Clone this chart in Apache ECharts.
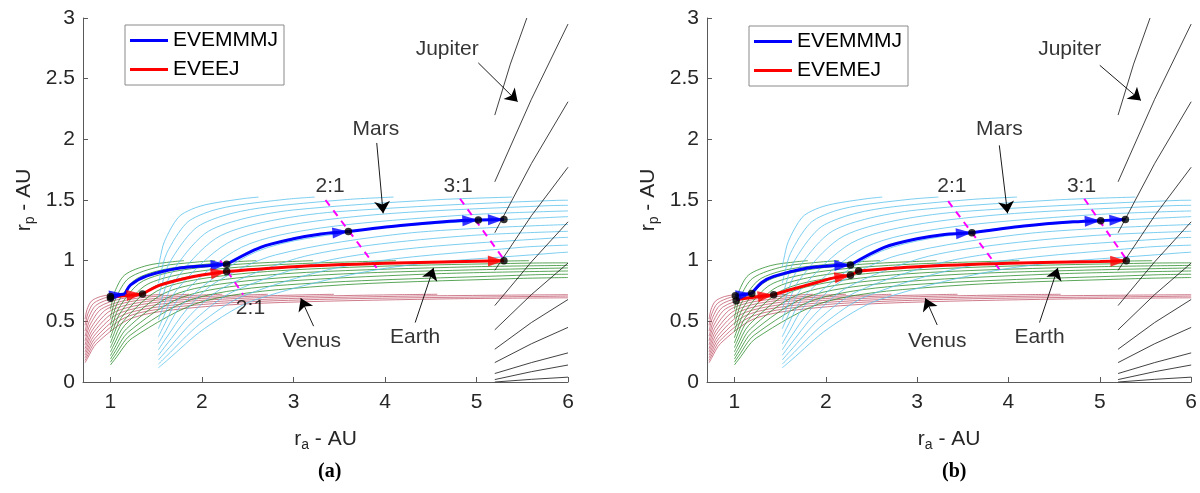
<!DOCTYPE html>
<html><head><meta charset="utf-8">
<script src="https://cdn.jsdelivr.net/npm/echarts@6/dist/echarts.min.js"></script>
<style>html,body{margin:0;padding:0;background:#fff}#c{width:1200px;height:493px}</style>
</head><body><div id="c"></div>
<script>
// ---------------- data ----------------
const xTicks = [1, 2, 3, 4, 5, 6];
const legendA = ['EVEMMMJ', 'EVEEJ'];
const legendB = ['EVEMMMJ', 'EVEMEJ'];
const captions = ['(a)', '(b)'];

// background contour families, [ra, rp] points in AU
const venusCurves = [
 [[0.723,0.519],[0.7275,0.540],[0.744,0.597],[0.791,0.666],[0.890,0.704],[0.994,0.719],[1.038,0.723]],
 [[0.723,0.467],[0.729,0.491],[0.752,0.561],[0.816,0.649],[0.959,0.698],[1.115,0.7175],[1.183,0.723]],
 [[0.723,0.420],[0.731,0.448],[0.760,0.529],[0.843,0.633],[1.036,0.692],[1.258,0.716],[1.361,0.723]],
 [[0.723,0.378],[0.733,0.408],[0.768,0.498],[0.872,0.617],[1.122,0.687],[1.431,0.715],[1.579,0.723]],
 [[0.723,0.340],[0.734,0.373],[0.776,0.470],[0.904,0.603],[1.221,0.682],[1.642,0.714],[1.858,0.723]],
 [[0.723,0.306],[0.736,0.340],[0.785,0.444],[0.937,0.589],[1.101,0.642],[1.333,0.676],[1.906,0.713],[2.222,0.723]],
 [[0.723,0.276],[0.738,0.310],[0.795,0.420],[0.973,0.575],[1.172,0.633],[1.465,0.671],[1.839,0.696],[2.247,0.711],[2.720,0.723]],
 [[0.723,0.248],[0.740,0.283],[0.804,0.397],[1.012,0.562],[1.251,0.625],[1.618,0.667],[2.117,0.693],[2.702,0.710],[3.223,0.720],[3.442,0.723]],
 [[0.723,0.222],[0.742,0.258],[0.815,0.375],[1.054,0.550],[1.340,0.617],[1.800,0.662],[2.472,0.691],[3.338,0.709],[4.189,0.720],[4.572,0.723]],
 [[0.723,0.199],[0.744,0.235],[0.825,0.355],[1.100,0.538],[1.441,0.610],[2.021,0.657],[2.946,0.688],[4.295,0.708],[5.346,0.716],[6.0,0.7195]],
 [[0.723,0.178],[0.747,0.214],[0.836,0.336],[1.150,0.527],[1.555,0.603],[2.292,0.653],[3.602,0.686],[5.887,0.707],[6.0,0.708]],
 [[0.723,0.159],[0.749,0.195],[0.848,0.318],[1.205,0.517],[1.688,0.595],[2.635,0.649],[4.579,0.684],[6.0,0.694]]
];

const earthCurves = [
 [[1,0.5993],[1.0102,0.6365],[1.0474,0.7443],[1.1551,0.8816],[1.3994,0.9600],[1.6779,0.9911],[1.8036,1]],
 [[1,0.5295],[1.0130,0.5710],[1.0607,0.6942],[1.2018,0.8562],[1.5368,0.9510],[1.9478,0.9891],[2.1446,1]],
 [[1,0.4680],[1.0159,0.5127],[1.0746,0.6482],[1.2524,0.8323],[1.4397,0.8992],[1.6966,0.9423],[2.2895,0.9870],[2.5945,1]],
 [[1,0.4135],[1.0189,0.4604],[1.0892,0.6060],[1.3074,0.8096],[1.5450,0.8850],[1.8844,0.9340],[2.3013,0.9653],[2.7356,0.9852],[3.2147,1]],
 [[1,0.3651],[1.0221,0.4136],[1.1045,0.5671],[1.3673,0.7882],[1.6640,0.8714],[2.1078,0.9259],[2.6886,0.9610],[3.3398,0.9833],[4.1197,1]],
 [[1,0.3218],[1.0253,0.3712],[1.1206,0.5311],[1.4330,0.7679],[1.8002,0.8585],[2.3796,0.9182],[3.1985,0.9569],[4.2096,0.9815],[5.5729,1]],
 [[1,0.2830],[1.0288,0.3328],[1.1377,0.4976],[1.5056,0.7486],[1.9574,0.8460],[2.7162,0.9107],[3.8974,0.9528],[5.5641,0.9798],[6,0.982]],
 [[1,0.2482],[1.0323,0.2980],[1.1556,0.4665],[1.5858,0.7302],[2.1407,0.8340],[3.1441,0.9034],[4.9138,0.9489],[6,0.961]],
 [[1,0.2168],[1.0360,0.2664],[1.1746,0.4376],[1.6750,0.7128],[2.3572,0.8225],[3.7057,0.8964],[6,0.940]],
 [[1,0.1887],[1.0399,0.2376],[1.1946,0.4106],[1.7746,0.6961],[2.6159,0.8115],[4.4727,0.8897],[6,0.915]],
 [[1,0.1633],[1.0440,0.2114],[1.2159,0.3853],[1.8872,0.6802],[2.9327,0.8008],[5.5912,0.8831],[6,0.888]],
 [[1,0.1405],[1.0482,0.1873],[1.2384,0.3616],[2.0149,0.6650],[3.3282,0.7906],[5.3873,0.8518],[6,0.861]]
];

const marsCurves = [
 [[1.524,0.948],[1.538,1.002],[1.590,1.158],[1.740,1.356],[1.888,1.424],[2.076,1.467],[2.451,1.511],[2.618,1.524]],
 [[1.524,0.813],[1.544,0.876],[1.615,1.062],[1.827,1.307],[2.043,1.395],[2.328,1.450],[2.940,1.5075],[3.232,1.524]],
 [[1.524,0.698],[1.549,0.767],[1.641,0.977],[1.922,1.262],[2.220,1.367],[2.631,1.434],[3.591,1.504],[4.093,1.524]],
 [[1.524,0.599],[1.555,0.672],[1.669,0.899],[2.029,1.221],[2.425,1.340],[3.003,1.418],[4.507,1.500],[5.391,1.524]],
 [[1.524,0.513],[1.561,0.588],[1.699,0.829],[2.147,1.181],[2.665,1.315],[3.468,1.403],[5.876,1.497],[6.0,1.498]],
 [[1.524,0.439],[1.567,0.514],[1.730,0.765],[2.280,1.145],[2.950,1.292],[4.067,1.389],[5.782,1.453],[6.0,1.456]],
 [[1.524,0.373],[1.574,0.449],[1.764,0.706],[2.431,1.110],[3.295,1.269],[4.872,1.376],[6.0,1.410]],
 [[1.524,0.315],[1.581,0.391],[1.800,0.653],[2.603,1.077],[3.718,1.248],[4.579,1.307],[6.0,1.363]],
 [[1.524,0.265],[1.588,0.339],[1.839,0.603],[2.146,0.819],[2.801,1.047],[4.253,1.227],[6.0,1.298]],
 [[1.524,0.220],[1.596,0.292],[1.881,0.558],[2.237,0.780],[3.032,1.018],[3.835,1.127],[4.946,1.208],[6.0,1.242]],
 [[1.524,0.1815],[1.605,0.2508],[1.926,0.516],[2.339,0.744],[3.304,0.990],[4.340,1.105],[5.883,1.189],[6.0,1.192]],
 [[1.524,0.1473],[1.613,0.2136],[1.974,0.477],[2.453,0.7095],[3.630,0.9646],[5.489,1.110],[6.0,1.128]],
 [[1.524,0.1175],[1.623,0.1805],[2.027,0.4406],[2.581,0.6774],[4.027,0.9399],[5.856,1.063],[6.0,1.07]]
];

const jupiterCurves = [
 [[5.2,2.20],[5.37,2.62],[5.55,3.0]],
 [[5.2,1.65],[5.6,2.33],[6.0,2.95]],
 [[5.2,1.23],[5.6,1.80],[6.0,2.31]],
 [[5.2,0.92],[5.6,1.37],[6.0,1.77]],
 [[5.2,0.63],[5.6,0.99],[6.0,1.32]],
 [[5.2,0.43],[5.6,0.72],[6.0,0.98]],
 [[5.2,0.27],[5.6,0.49],[6.0,0.68]],
 [[5.2,0.16],[5.6,0.315],[6.0,0.45]],
 [[5.2,0.07],[5.6,0.16],[6.0,0.24]],
 [[5.2,0.02],[5.6,0.085],[6.0,0.14]],
 [[5.2,0.0],[5.6,0.022],[6.0,0.04]]
];

// trajectories (segments end at flyby nodes, arrowheads at segment ends)
const blueA = [
 [[1.0,0.71],[1.16,0.725]],
 [[1.16,0.725],[1.22,0.80],[1.4,0.875],[1.76,0.94],[2.12,0.962],[2.27,0.97]],
 [[2.27,0.97],[2.64,1.11],[3.0,1.18],[3.3,1.22],[3.6,1.24]],
 [[3.6,1.24],[4.17,1.29],[4.71,1.325],[5.02,1.335]],
 [[5.02,1.335],[5.3,1.34]]
];
const redA = [
 [[1.0,0.70],[1.35,0.725]],
 [[1.35,0.725],[1.55,0.80],[1.91,0.87],[2.17,0.90],[2.27,0.91]],
 [[2.27,0.91],[3.0,0.95],[4.0,0.978],[5.0,0.995],[5.3,1.0]]
];
const blueB = [
 [[1.01,0.71],[1.19,0.73]],
 [[1.19,0.73],[1.3,0.82],[1.43,0.87],[1.8,0.94],[2.1,0.96],[2.27,0.965]],
 [[2.27,0.965],[2.64,1.11],[3.0,1.18],[3.3,1.215],[3.6,1.23]],
 [[3.6,1.23],[4.17,1.285],[4.71,1.32],[5.01,1.33]],
 [[5.01,1.33],[5.28,1.34]]
];
const redB = [
 [[1.02,0.68],[1.43,0.72]],
 [[1.43,0.72],[1.61,0.76],[1.9,0.82],[2.1,0.86],[2.27,0.88]],
 [[2.27,0.88],[2.36,0.915]],
 [[2.36,0.915],[3.0,0.95],[4.0,0.978],[5.0,0.993],[5.29,1.0]]
];
const arrowSegA = { blue: [0,1,2,3,4], red: [0,1,2] };
const arrowSegB = { blue: [0,1,2,3,4], red: [0,1,3] };

const dotsA = [[1.0,0.69],[1.0,0.705],[1.35,0.725],[2.27,0.97],[2.27,0.91],[3.6,1.24],[5.02,1.335],[5.3,1.34],[5.3,1.0]];
const dotsB = [[1.01,0.71],[1.02,0.67],[1.19,0.73],[1.43,0.72],[2.27,0.965],[2.27,0.88],[2.36,0.915],[3.6,1.23],[5.01,1.33],[5.28,1.34],[5.29,1.0]];

const resA = [ [[2.2,1.0],[2.45,0.72]], [[3.35,1.5],[3.91,0.94]], [[4.82,1.51],[5.29,1.02]] ];
const resB = [ [[3.34,1.49],[3.9,0.93]], [[4.83,1.51],[5.3,1.0]] ];
const resLabelsA = [['2:1',2.53,0.61],['2:1',3.40,1.61],['3:1',4.80,1.61]];
const resLabelsB = [['2:1',3.38,1.61],['3:1',4.80,1.61]];

const planetLabelsA = [['Jupiter',4.68,2.74],['Mars',3.90,2.08],['Venus',3.20,0.34],['Earth',4.33,0.37]];
const planetLabelsB = [['Jupiter',4.67,2.74],['Mars',3.90,2.08],['Venus',3.22,0.34],['Earth',4.34,0.37]];
const planetArrowsA = [ [[5.02,2.63],[5.45,2.31]], [[3.91,1.97],[3.98,1.39]], [[3.22,0.46],[3.08,0.69]], [[4.33,0.49],[4.53,0.94]] ];
const planetArrowsB = [ [[5.0,2.61],[5.45,2.32]], [[3.90,1.95],[3.99,1.39]], [[3.22,0.47],[3.09,0.69]], [[4.34,0.49],[4.54,0.94]] ];

// ---------------- chart ----------------
const FONT = 'Liberation Sans, Arial, Helvetica, sans-serif';
const FS = 21;
const chart = echarts.init(document.getElementById('c'), null, {renderer:'canvas'});
const grids = [
  {left:83, top:18, width:485, height:364},
  {left:707, top:18, width:485, height:364}
];
const famColors = {venus:'#BF5066', earth:'#2F8F2F', mars:'#5BC2EC', jupiter:'#111111'};

function axisName(main, sub){
  return '{m|' + main + '}{s|' + sub + '}{m| - AU}';
}
const nameRich = {
  m:{fontSize:FS, color:'#262626', fontFamily:FONT},
  s:{fontSize:14, color:'#262626', fontFamily:FONT, padding:[12,0,0,0]}
};

const xAxes = [], yAxes = [], series = [];
for (let i=0;i<2;i++){
  xAxes.push({gridIndex:i, type:'value', min:0.7, max:6,
    axisLine:{show:true, onZero:false, lineStyle:{color:'#5a5a5a', width:1}},
    axisTick:{show:true, inside:true, length:5, customValues:xTicks, lineStyle:{color:'#5a5a5a'}},
    axisLabel:{customValues:xTicks, fontSize:FS, color:'#262626', fontFamily:FONT, margin:10},
    splitLine:{show:false},
    name:axisName('r','a'), nameLocation:'middle', nameGap:44,
    nameTextStyle:{rich:nameRich}
  });
  yAxes.push({gridIndex:i, type:'value', min:0, max:3, interval:0.5,
    axisLine:{show:true, onZero:false, lineStyle:{color:'#5a5a5a', width:1}},
    axisTick:{show:true, inside:true, length:5, lineStyle:{color:'#5a5a5a'}},
    axisLabel:{fontSize:FS, color:'#262626', fontFamily:FONT, margin:8},
    splitLine:{show:false},
    name:axisName('r','p'), nameLocation:'middle', nameGap:46, nameRotate:90,
    nameTextStyle:{rich:nameRich}
  });
}

function addFamily(i, curves, color, smooth, width){
  curves.forEach(c => series.push({type:'line', xAxisIndex:i, yAxisIndex:i, data:c,
    showSymbol:false, symbol:'none', smooth:smooth, silent:true, z:1,
    lineStyle:{width:width, color:color}, animation:false}));
}

const trajA = {blue:blueA, red:redA}, trajB = {blue:blueB, red:redB};
const namesA = {blue:legendA[0], red:legendA[1]}, namesB = {blue:legendB[0], red:legendB[1]};
const colors = {blue:'#0000FF', red:'#FF0000'};

function buildPanel(i, traj, names, dots, res, resLabels, pLabels, pArrows){
  addFamily(i, venusCurves, famColors.venus, 0.3, 0.75);
  addFamily(i, earthCurves, famColors.earth, 0.3, 0.8);
  addFamily(i, marsCurves, famColors.mars, 0.3, 0.8);
  addFamily(i, jupiterCurves, famColors.jupiter, false, 0.8);
  res.forEach(r => series.push({type:'line', xAxisIndex:i, yAxisIndex:i, data:r, showSymbol:false, symbol:'none', silent:true, z:4,
    lineStyle:{width:2, color:'#FF00FF', type:[7,6]}, animation:false}));
  ['red','blue'].forEach(k => traj[k].forEach(seg => series.push({type:'line', name:names[k], xAxisIndex:i, yAxisIndex:i, data:seg,
    showSymbol:false, symbol:'none', smooth:0.3, z:5, color:colors[k], lineStyle:{width:3, color:colors[k]}, animation:false})));
  series.push({type:'scatter', id:'arrows'+i, xAxisIndex:i, yAxisIndex:i, data:[], symbol:'triangle', z:6, silent:true, animation:false});
  series.push({type:'scatter', xAxisIndex:i, yAxisIndex:i, data:dots, symbol:'circle', symbolSize:7.5, itemStyle:{color:'#000'}, z:7, silent:true, animation:false});
  series.push({type:'lines', coordinateSystem:'cartesian2d', xAxisIndex:i, yAxisIndex:i, silent:true, z:6,
    data:pArrows.map(a => ({coords:a})), symbol:['none','arrow'], symbolSize:[0,12],
    lineStyle:{color:'#000', width:0.9, opacity:1, curveness:0}, animation:false});
  series.push({type:'scatter', xAxisIndex:i, yAxisIndex:i, silent:true, z:8, symbolSize:1, itemStyle:{color:'rgba(0,0,0,0)'},
    data:pLabels.concat(resLabels).map(l => ({value:[l[1], l[2]], name:l[0]})),
    label:{show:true, position:'inside', formatter:p => p.name, fontSize:FS, color:'#000', fontFamily:FONT}, labelLayout:{hideOverlap:false}, animation:false});
}

buildPanel(0, trajA, namesA, dotsA, resA, resLabelsA, planetLabelsA, planetArrowsA);
buildPanel(1, trajB, namesB, dotsB, resB, resLabelsB, planetLabelsB, planetArrowsB);

const legendCommon = {orient:'vertical', icon:'rect', itemWidth:38, itemHeight:3, itemGap:8,
  padding:[5,6,5,5], borderColor:'#8a8a8a', borderWidth:1, backgroundColor:'#fff',
  textStyle:{fontSize:FS, color:'#000', fontFamily:FONT}, selectedMode:false};

chart.setOption({
  animation:false,
  grid:grids,
  xAxis:xAxes, yAxis:yAxes,
  legend:[
    Object.assign({left:125, top:25, data:legendA}, legendCommon),
    Object.assign({left:749, top:26, data:legendB}, legendCommon)
  ],
  title:captions.map((t,i) => ({text:t, left:(i===0?313:937), top:457,
    textStyle:{fontFamily:'Liberation Serif, Times New Roman, serif', fontWeight:'bold', fontSize:20, color:'#000'}})),
  series:series
});

// arrowheads computed in pixel space from the trajectory segments
function arrowsFor(i, traj, segs){
  const out = [];
  ['blue','red'].forEach(k => segs[k].forEach(si => {
    const seg = traj[k][si];
    const p = chart.convertToPixel({gridIndex:i}, seg[seg.length-1]);
    const q = chart.convertToPixel({gridIndex:i}, seg[seg.length-2]);
    const dx = p[0]-q[0], dy = p[1]-q[1];
    const L = Math.hypot(dx,dy) || 1;
    const ux = dx/L, uy = dy/L;
    const len = 16;
    const c = [p[0]-ux*len/2, p[1]-uy*len/2];
    const ang = Math.atan2(-uy, ux)*180/Math.PI;
    out.push({value:chart.convertFromPixel({gridIndex:i}, c), symbolRotate:ang-90, symbolSize:[11,len], itemStyle:{color:colors[k]}});
  }));
  return out;
}
chart.setOption({series:[
  {id:'arrows0', data:arrowsFor(0, trajA, arrowSegA)},
  {id:'arrows1', data:arrowsFor(1, trajB, arrowSegB)}
]});
</script></body></html>
